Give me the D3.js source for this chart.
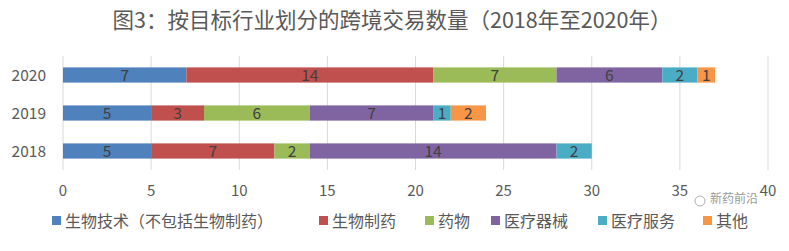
<!DOCTYPE html>
<html>
<head>
<meta charset="utf-8">
<script src="https://cdn.jsdelivr.net/npm/d3@7"></script>
<style>
  body { margin: 0; background: #fff; }
  text { font-family: "Noto Sans CJK SC", "Open Sans", sans-serif; }
</style>
</head>
<body>
<div class="chart"></div>
<script>
// Data.
let years = ['2020', '2019', '2018'];
let categories = ['生物技术（不包括生物制药）', '生物制药', '药物', '医疗器械', '医疗服务', '其他'];
let colors = ['#4F81BD', '#C0504D', '#9BBB59', '#8064A2', '#4BACC6', '#F79646'];
let values2020 = [7, 14, 7, 6, 2, 1];
let values2019 = [5, 3, 6, 7, 1, 2];
let values2018 = [5, 7, 2, 14, 2, 0];
let xTicks = [0, 5, 10, 15, 20, 25, 30, 35, 40];

let seriesByYear = {'2020': values2020, '2019': values2019, '2018': values2018};

// Build constants.
let width = 789,
    height = 251,
    margin = {top: 56, right: 21, bottom: 81, left: 63};

let svg = d3.select('.chart')
    .append('svg')
        .attr('width', width)
        .attr('height', height);

// Title.
svg.append('text')
    .attr('x', 392)
    .attr('y', 28)
    .attr('text-anchor', 'middle')
    .attr('font-size', 21.5)
    .attr('fill', '#595959')
    .text('图3：按目标行业划分的跨境交易数量（2018年至2020年）');

// Scales.
let x = d3.scaleLinear()
    .domain([0, 40])
    .range([margin.left, width - margin.right]);

let y = d3.scaleBand()
    .domain(years)
    .range([margin.top, height - margin.bottom])
    .paddingInner(0.6)
    .paddingOuter(0.3);

// Gridlines.
svg.append('g')
    .selectAll('line')
    .data(xTicks)
    .join('line')
        .attr('x1', d => x(d))
        .attr('x2', d => x(d))
        .attr('y1', margin.top)
        .attr('y2', height - margin.bottom)
        .attr('stroke', '#d9d9d9')
        .attr('stroke-width', 1);

// Stack rows.
let rows = [];
years.forEach(yr => {
    let acc = 0;
    seriesByYear[yr].forEach((v, i) => {
        rows.push({year: yr, i: i, v: v, x0: acc, x1: acc + v});
        acc += v;
    });
});
rows = rows.filter(d => d.v > 0);

svg.append('g')
    .selectAll('rect')
    .data(rows)
    .join('rect')
        .attr('x', d => x(d.x0))
        .attr('y', d => y(d.year))
        .attr('width', d => x(d.x1) - x(d.x0))
        .attr('height', y.bandwidth())
        .attr('fill', d => colors[d.i]);

svg.append('g')
    .selectAll('text')
    .data(rows)
    .join('text')
        .attr('x', d => (x(d.x0) + x(d.x1)) / 2)
        .attr('y', d => y(d.year) + y.bandwidth() / 2)
        .attr('dy', '0.36em')
        .attr('text-anchor', 'middle')
        .attr('font-size', 15.5)
        .attr('fill', '#404040')
        .text(d => d.v);

// Y labels.
svg.append('g')
    .selectAll('text')
    .data(years)
    .join('text')
        .attr('x', 46)
        .attr('y', d => y(d) + y.bandwidth() / 2)
        .attr('dy', '0.36em')
        .attr('text-anchor', 'end')
        .attr('font-size', 15.5)
        .attr('fill', '#595959')
        .text(d => d);

// X tick labels.
svg.append('g')
    .selectAll('text')
    .data(xTicks)
    .join('text')
        .attr('x', d => x(d))
        .attr('y', 196)
        .attr('text-anchor', 'middle')
        .attr('font-size', 15)
        .attr('fill', '#595959')
        .text(d => d);

// Legend.
let legendX = [52, 319, 425, 491, 598, 703];
let legend = svg.append('g')
    .selectAll('g')
    .data(categories)
    .join('g')
        .attr('transform', (d, i) => `translate(${legendX[i]}, 221)`);

legend.append('rect')
    .attr('x', 0)
    .attr('y', -5)
    .attr('width', 9)
    .attr('height', 9)
    .attr('fill', (d, i) => colors[i]);

legend.append('text')
    .attr('x', 13)
    .attr('y', 0)
    .attr('dy', '0.36em')
    .attr('font-size', 16)
    .attr('fill', '#595959')
    .text(d => d);

// Watermark (kept just above the legend text).
svg.append('circle')
    .attr('cx', 700)
    .attr('cy', 201)
    .attr('r', 5)
    .attr('fill', 'none')
    .attr('stroke', '#b0b0b0')
    .attr('stroke-width', 1);

svg.append('text')
    .attr('x', 710)
    .attr('y', 199)
    .attr('dy', '0.36em')
    .attr('font-size', 12)
    .attr('fill', '#7f7f7f')
    .attr('opacity', 0.8)
    .text('新药前沿');
</script>
</body>
</html>
